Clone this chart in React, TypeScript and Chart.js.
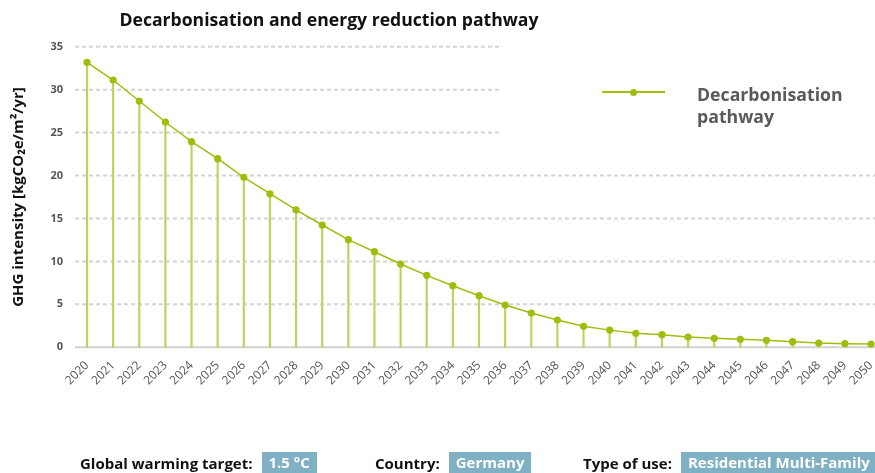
import React, { useEffect, useRef } from "react";
import { Chart, registerables } from "chart.js";

Chart.register(...registerables);

const years = [
  "2020", "2021", "2022", "2023", "2024", "2025", "2026", "2027", "2028", "2029",
  "2030", "2031", "2032", "2033", "2034", "2035", "2036", "2037", "2038", "2039",
  "2040", "2041", "2042", "2043", "2044", "2045", "2046", "2047", "2048", "2049", "2050",
];

const pathway = [
  33.18, 31.12, 28.68, 26.23, 23.94, 21.96, 19.79, 17.88, 15.99, 14.24,
  12.53, 11.13, 9.7, 8.38, 7.17, 6.01, 4.92, 3.99, 3.18, 2.44,
  2.0, 1.63, 1.47, 1.2, 1.05, 0.93, 0.81, 0.65, 0.5, 0.42, 0.38,
];

const yTicks = [0, 5, 10, 15, 20, 25, 30, 35];

const chartTitle = "Decarbonisation and energy reduction pathway";
const yTitle = "GHG intensity [kgCO\u2082e/m\u00b2/yr]";
const seriesLabel = "Decarbonisation pathway";
const infoItems = [
  { label: "Global warming target:", value: "1.5 \u00b0C" },
  { label: "Country:", value: "Germany" },
  { label: "Type of use:", value: "Residential Multi-Family" },
];

const GREEN = "#9fbe0c";
const DROP = "#bcd45a";
const FONT = "'Open Sans', 'Noto Sans', sans-serif";

const gridPlugin = {
  id: "customGrid",
  beforeDatasetsDraw(chart: any) {
    const { ctx, scales } = chart;
    const y = scales.y;
    ctx.save();
    for (const v of yTicks) {
      const py = y.getPixelForValue(v);
      ctx.beginPath();
      if (v === 0) {
        ctx.setLineDash([]);
        ctx.strokeStyle = "#d2d2d2";
        ctx.lineWidth = 2;
        ctx.moveTo(75, py);
        ctx.lineTo(875, py);
      } else {
        ctx.setLineDash([4, 3]);
        ctx.strokeStyle = "#d4d4d4";
        ctx.lineWidth = 2;
        ctx.moveTo(75, py);
        ctx.lineTo(v >= 25 ? 502 : 875, py);
      }
      ctx.stroke();
    }
    ctx.restore();
  },
};

export default function App() {
  const ref = useRef<HTMLCanvasElement | null>(null);

  useEffect(() => {
    if (!ref.current) return;
    const chart = new Chart(ref.current, {
      type: "line",
      data: {
        labels: years,
        datasets: [
          {
            type: "line",
            label: seriesLabel,
            data: pathway,
            borderColor: GREEN,
            backgroundColor: GREEN,
            pointBackgroundColor: GREEN,
            pointBorderWidth: 0,
            pointRadius: 3.6,
            borderWidth: 1.5,
            tension: 0,
            clip: false as any,
            order: 0,
          },
          {
            type: "bar",
            label: "drop",
            data: pathway,
            backgroundColor: DROP,
            barThickness: 1.5,
            clip: false as any,
            order: 1,
          } as any,
        ],
      },
      options: {
        responsive: false,
        animation: false,
        devicePixelRatio: 1,
        layout: { padding: { left: 0, right: 4, top: 46.7, bottom: 0 } },
        plugins: {
          legend: { display: false },
          tooltip: { enabled: false },
          title: { display: false },
        },
        scales: {
          x: {
            type: "category",
            offset: false,
            grid: { display: false, drawTicks: false },
            border: { display: false },
            ticks: {
              minRotation: 45,
              maxRotation: 45,
              padding: 11,
              color: "#555555",
              font: { family: FONT, size: 12 },
              autoSkip: false,
            },
            afterFit: (s: any) => {
              s.height = 125.7;
              s.paddingLeft = 0;
              s.paddingRight = 0;
            },
          },
          y: {
            min: 0,
            max: 35,
            grid: { display: false, drawTicks: false },
            border: { display: false },
            ticks: {
              stepSize: 5,
              padding: 24,
              color: "#555555",
              font: { family: FONT, size: 11, weight: "bold" },
            },
            title: {
              display: true,
              text: yTitle,
              color: "#111111",
              font: { family: FONT, size: 15, weight: "bold" },
              padding: { top: 10, bottom: 0 },
            },
            afterFit: (s: any) => {
              s.width = 87;
              s.paddingTop = 0;
              s.paddingBottom = 0;
            },
          },
        },
      },
      plugins: [gridPlugin],
    });
    return () => chart.destroy();
  }, []);

  const badgeLefts = [80, 375, 583];

  return (
    <div
      style={{
        position: "absolute",
        left: 0,
        top: 0,
        width: 875,
        height: 473,
        overflow: "hidden",
        background: "#ffffff",
        fontFamily: FONT,
      }}
    >
      <canvas ref={ref} width={875} height={473} style={{ display: "block", width: 875, height: 473 }} />
      <div
        style={{
          position: "absolute",
          left: 0,
          width: 658,
          top: 7,
          textAlign: "center",
          fontSize: 17.6,
          lineHeight: "24px",
          fontWeight: 700,
          color: "#111111",
          whiteSpace: "nowrap",
        }}
      >
        {chartTitle}
      </div>
      <div style={{ position: "absolute", left: 602, top: 91, width: 63, height: 2, background: GREEN }} />
      <div
        style={{
          position: "absolute",
          left: 629.5,
          top: 88.5,
          width: 7,
          height: 7,
          borderRadius: "50%",
          background: GREEN,
        }}
      />
      <div
        style={{
          position: "absolute",
          left: 697,
          top: 83,
          width: 175,
          fontSize: 17.7,
          lineHeight: "22px",
          fontWeight: 700,
          color: "#5a5a5a",
        }}
      >
        {seriesLabel}
      </div>
      {infoItems.map((it, i) => (
        <div
          key={it.label}
          style={{
            position: "absolute",
            left: badgeLefts[i],
            top: 452,
            height: 21,
            display: "flex",
            alignItems: "center",
            whiteSpace: "nowrap",
          }}
        >
          <span style={{ fontSize: 15, fontWeight: 700, color: "#111111", marginRight: 9 }}>{it.label}</span>
          <span
            style={{
              fontSize: 15,
              fontWeight: 700,
              color: "#ffffff",
              background: "#7fb0c4",
              height: 21,
              lineHeight: "21px",
              padding: "0 7px",
            }}
          >
            {it.value}
          </span>
        </div>
      ))}
    </div>
  );
}
